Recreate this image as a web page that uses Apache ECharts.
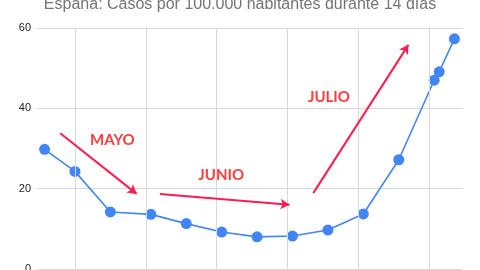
<!DOCTYPE html>
<html>
<head>
<meta charset="utf-8">
<script src="https://cdn.jsdelivr.net/npm/echarts@6/dist/echarts.min.js"></script>
<style>html,body{margin:0;padding:0;background:#fff}#c{width:480px;height:270px}</style>
</head>
<body>
<div id="c"></div>
<script>
// Days relative to first vertical gridline
const days = [-6, 0, 7, 15, 22, 29, 36, 43, 50, 57, 64, 71, 72, 75];
const casos = [29.8, 24.3, 14.2, 13.6, 11.3, 9.2, 8.0, 8.2, 9.7, 13.7, 27.2, 47.0, 49.1, 57.3];
const yTicks = [0, 20, 40, 60];
const gridDays = [0, 14, 28, 42, 56, 70];
const monthLabels = ['MAYO', 'JUNIO', 'JULIO'];
const labelPos = [[7.4, 32.1], [28.9, 23.4], [50.2, 42.8]];
const arrows = [
  [[-2.9, 33.8], [12.2, 18.7]],
  [[16.8, 18.7], [42.4, 16.0]],
  [[47.1, 18.9], [65.9, 55.8]]
];
const titleText = 'España: Casos por 100.000 habitantes durante 14 días';

const chart = echarts.init(document.getElementById('c'));
chart.setOption({
  animation: false,
  title: {
    text: titleText,
    left: 'center',
    top: -8,
    textStyle: { fontFamily: 'Liberation Sans, Arial', fontSize: 16, fontWeight: 'normal', color: '#757575' }
  },
  grid: { left: 37, right: 18, top: 28, bottom: 1, outerBoundsMode: 'none', containLabel: false },
  xAxis: {
    type: 'value', min: -7.5, max: 76.5,
    axisLine: { show: false }, axisTick: { show: false }, axisLabel: { show: false },
    splitLine: { show: false }
  },
  yAxis: {
    type: 'value', min: yTicks[0], max: yTicks[yTicks.length - 1], interval: 20,
    axisLine: { show: false }, axisTick: { show: false },
    axisLabel: { fontFamily: 'Liberation Sans, Arial', fontSize: 11, color: '#222', margin: 6 },
    splitLine: { lineStyle: { color: '#d9d9d9', width: 1 } }
  },
  series: [
    {
      type: 'line',
      data: [],
      silent: true,
      markLine: {
        silent: true, symbol: 'none', animation: false,
        label: { show: false },
        lineStyle: { color: '#d9d9d9', width: 1, type: 'solid' },
        data: gridDays.map(d => ({ xAxis: d }))
      }
    },
    {
      type: 'line',
      data: days.map((d, i) => [d, casos[i]]),
      color: '#4285f4',
      lineStyle: { width: 1.6, color: '#4285f4' },
      symbol: 'circle', symbolSize: 11,
      itemStyle: { color: '#4285f4' },
      z: 3
    },
    {
      type: 'line',
      data: [],
      z: 4,
      markLine: {
        silent: true, symbol: ['none', 'arrow'], symbolSize: [8, 9], animation: false,
        label: { show: false },
        lineStyle: { color: '#ff1a4f', width: 2, type: 'solid' },
        data: arrows.map(a => [{ coord: a[0] }, { coord: a[1] }])
      },
      markPoint: {
        silent: true, symbol: 'circle', symbolSize: 0, animation: false,
        label: {
          show: true, position: 'inside', color: '#ff3b3b',
          fontFamily: 'Lato, Noto Sans, sans-serif', fontWeight: 'bold', fontSize: 15
        },
        data: monthLabels.map((t, i) => ({ coord: labelPos[i], value: t, label: { formatter: t } }))
      }
    }
  ]
});
</script>
</body>
</html>
